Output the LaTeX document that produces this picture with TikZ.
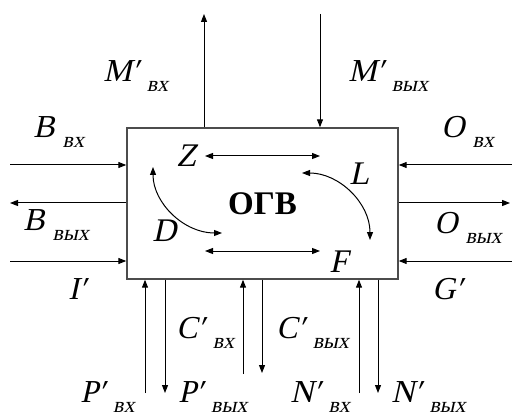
\documentclass[tikz,border=0pt]{standalone}
\usepackage{fontspec}
\setmainfont{Liberation Serif}[ItalicFont={Liberation Serif}, ItalicFeatures={FakeSlant=0.22}]
\usetikzlibrary{arrows.meta, calc, positioning}
\newcommand{\sbs}[1]{\hspace{4pt}\raisebox{-5pt}{\fontsize{11}{11}\selectfont\itshape #1}}
\tikzset{
    arr/.style={-{Triangle[length=4pt, width=3pt]}, line width=0.5pt},
    darr/.style={{Triangle[length=4pt, width=3pt]}-{Triangle[length=4pt, width=3pt]}, line width=0.5pt},
    sig/.style={anchor=base west, inner sep=0pt, font=\fontsize{16}{16}\selectfont\itshape},
    var/.style={anchor=base west, inner sep=0pt, font=\fontsize{16.5}{16.5}\selectfont\itshape},
    block/.style={rectangle, draw=black!70, line width=0.7pt, inner sep=0pt,
        minimum width=135.5pt, minimum height=75.5pt, font=\fontsize{16.5}{16.5}\selectfont\bfseries},
}

\begin{document}
\begin{tikzpicture}[x=0.5pt, y=-0.5pt]
    \useasboundingbox (0,0) rectangle (512,416);
    \node[block] (ogv) at (262.5,203.5) {ОГВ};

    % top
    \coordinate (mvx) at (204,14);
    \coordinate (mvyx) at (320,14);
    \draw[arr] (ogv.north -| mvx) -- (mvx);
    \draw[arr] (mvyx) -- (mvyx |- ogv.north);
    \node[sig] (lmvx) at (103,82) {M′\sbs{вх}};
    \node[sig] (lmvyx) at (348,82) {M′\sbs{вых}};

    % left
    \coordinate (bvx) at (10,165);
    \coordinate (bvyx) at (10,203);
    \coordinate (ii) at (10,261);
    \draw[arr] (bvx) -- (bvx -| ogv.west);
    \draw[arr] (bvyx -| ogv.west) -- (bvyx);
    \draw[arr] (ii) -- (ii -| ogv.west);
    \node[sig] (lbvx) at (33,138) {B\sbs{вх}};
    \node[sig] (lbvyx) at (23,230) {B\sbs{вых}};
    \node[sig] (lii) at (68,299) {I′};

    % right
    \coordinate (ovx) at (512,165);
    \coordinate (ovyx) at (510,203);
    \coordinate (gg) at (512,261);
    \draw[arr] (ovx) -- (ovx -| ogv.east);
    \draw[arr] (ovyx -| ogv.east) -- (ovyx);
    \draw[arr] (gg) -- (gg -| ogv.east);
    \node[sig] (lovx) at (441,138) {O\sbs{вх}};
    \node[sig] (lovyx) at (434,234) {O\sbs{вых}};
    \node[sig] (lgg) at (432,299) {G′};

    % bottom
    \coordinate (pvx) at (145,393);
    \coordinate (pvyx) at (165,393);
    \coordinate (cvx) at (243,374);
    \coordinate (cvyx) at (262,373);
    \coordinate (nvx) at (359,393);
    \coordinate (nvyx) at (378,393);
    \draw[arr] (pvx) -- (pvx |- ogv.south);
    \draw[arr] (pvyx |- ogv.south) -- (pvyx);
    \draw[arr] (cvx) -- (cvx |- ogv.south);
    \draw[arr] (cvyx |- ogv.south) -- (cvyx);
    \draw[arr] (nvx) -- (nvx |- ogv.south);
    \draw[arr] (nvyx |- ogv.south) -- (nvyx);
    \node[sig] (lcvx) at (176,338) {C′\sbs{вх}};
    \node[sig] (lcvyx) at (276,338) {C′\sbs{вых}};
    \node[sig] (lpvx) at (80,402) {P′\sbs{вх}};
    \node[sig] (lpvyx) at (178,402) {P′\sbs{вых}};
    \node[sig] (lnvx) at (290,402) {N′\sbs{вх}};
    \node[sig] (lnvyx) at (391,402) {N′\sbs{вых}};

    % inside
    \node[var] (z) at (176,167) {Z};
    \node[var] (l) at (349,185) {L};
    \node[var] (d) at (152,242) {D};
    \node[var] (f) at (329,272) {F};
    \coordinate (zl) at (205,156);
    \coordinate (zr) at (320,156);
    \coordinate (fl) at (205,251);
    \coordinate (fr) at (320,251);
    \coordinate (dt) at (153,167);
    \coordinate (db) at (222,233);
    \coordinate (lt) at (302,173);
    \coordinate (lb) at (370,240);
    \draw[darr] (zl) -- (zr);
    \draw[darr] (fl) -- (fr);
    \draw[darr] (dt) .. controls (153,203) and (184,233) .. (db);
    \draw[darr] (lt) .. controls (339,173) and (370,203) .. (lb);
\end{tikzpicture}
\end{document}
